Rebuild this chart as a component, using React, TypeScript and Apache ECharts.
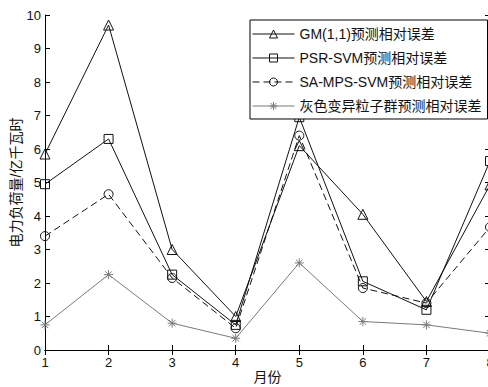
import React, { useEffect, useRef } from "react";
import * as echarts from "echarts";

const months = ["1", "2", "3", "4", "5", "6", "7", "8"];
const gmValues = [5.85, 9.7, 3.0, 1.0, 6.1, 4.05, 1.45, 4.93];
const psrValues = [4.95, 6.3, 2.25, 0.75, 6.95, 2.05, 1.2, 5.64];
const saValues = [3.4, 4.65, 2.15, 0.65, 6.4, 1.85, 1.4, 3.67];
const greyValues = [0.75, 2.25, 0.8, 0.35, 2.6, 0.85, 0.75, 0.5];
const seriesNames = [
  "GM(1,1)预测相对误差",
  "PSR-SVM预测相对误差",
  "SA-MPS-SVM预测相对误差",
  "灰色变异粒子群预测相对误差",
];

const FONT = "'Liberation Sans', 'Noto Sans CJK SC', sans-serif";
const STAR = "path://M0,-5L0,5M-5,0L5,0M-3.6,-3.6L3.6,3.6M-3.6,3.6L3.6,-3.6";

export default function App() {
  const ref = useRef<HTMLDivElement>(null);
  useEffect(() => {
    document.body.style.margin = "0";
    const chart = echarts.init(ref.current!, null, { renderer: "svg" });
    const axisLine = { show: true, lineStyle: { color: "#000", width: 1 } };
    const tick = { show: true, inside: true, length: 5, lineStyle: { color: "#000" } };
    const mk = (name: string, data: number[], symbol: string, color: string, dashed = false, size = 9) => ({
      name,
      type: "line",
      data,
      symbol,
      symbolSize: size,
      showSymbol: true,
      lineStyle: { color, width: 1, type: dashed ? [7, 4] : "solid" },
      itemStyle: { color: "transparent", borderColor: color, borderWidth: 1 },
      emphasis: { disabled: true },
    });
    chart.setOption({
      animation: false,
      backgroundColor: "#fff",
      textStyle: { fontFamily: FONT },
      grid: { left: 45, right: 8, top: 15, bottom: 37, outerBoundsMode: "none", containLabel: false },
      legend: {
        orient: "vertical",
        left: 250,
        top: 20,
        padding: [7, 6, 6, 2],
        itemGap: 10,
        itemWidth: 42,
        itemHeight: 10,
        borderColor: "#000",
        borderWidth: 1,
        backgroundColor: "#fff",
        lineStyle: { width: 1 },
        itemStyle: { borderWidth: 1 },
        textStyle: { fontSize: 14, color: "#111", fontFamily: FONT },
        data: seriesNames,
      },
      xAxis: [
        {
          type: "category",
          data: months,
          boundaryGap: false,
          position: "bottom",
          axisLine,
          axisTick: tick,
          axisLabel: { color: "#111", fontSize: 13, margin: 6 },
          name: "月份",
          nameLocation: "middle",
          nameGap: 20,
          nameMoveOverlap: false,
          nameTextStyle: { color: "#111", fontSize: 14 },
          splitLine: { show: false },
        },
        {
          type: "category",
          data: months,
          boundaryGap: false,
          position: "top",
          axisLine,
          axisTick: tick,
          axisLabel: { show: false },
          splitLine: { show: false },
        },
      ],
      yAxis: [
        {
          type: "value",
          min: 0,
          max: 10,
          interval: 1,
          position: "left",
          axisLine,
          axisTick: tick,
          axisLabel: { color: "#111", fontSize: 13, margin: 4 },
          name: "电力负荷量/亿千瓦时",
          nameLocation: "middle",
          nameGap: 22,
          nameMoveOverlap: false,
          nameRotate: 90,
          nameTextStyle: { color: "#111", fontSize: 14 },
          splitLine: { show: false },
        },
        {
          type: "value",
          min: 0,
          max: 10,
          interval: 1,
          position: "right",
          axisLine,
          axisTick: tick,
          axisLabel: { show: false },
          splitLine: { show: false },
        },
      ],
      series: [
        mk(seriesNames[0], gmValues, "triangle", "#111", false, 10),
        mk(seriesNames[1], psrValues, "rect", "#111", false, 9),
        mk(seriesNames[2], saValues, "circle", "#111", true, 9),
        mk(seriesNames[3], greyValues, STAR, "#7a7a7a", false, 9),
      ],
    });
    return () => chart.dispose();
  }, []);
  return (
    <div style={{ position: "fixed", left: 0, top: 0, width: 488, height: 387, overflow: "hidden" }}>
      <div ref={ref} style={{ width: 498, height: 387 }} />
    </div>
  );
}
